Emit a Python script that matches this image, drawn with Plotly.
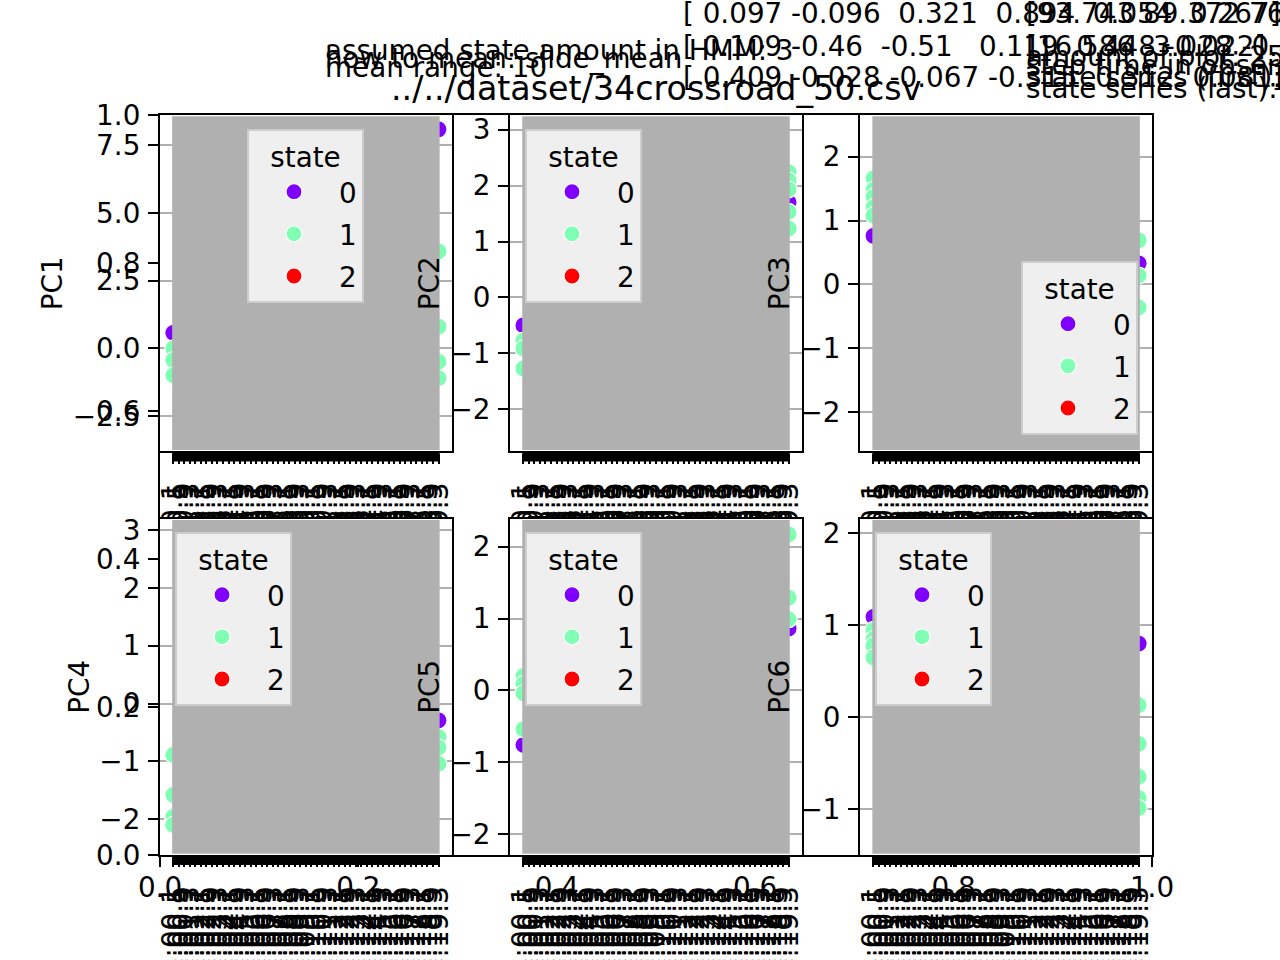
import plotly.graph_objects as go

# ---------------- data ----------------
time_labels = ["43:00.1", "43:00.5", "43:00.9", "43:01.3", "43:01.7", "43:02.1", "43:02.5",
               "43:02.9", "43:03.3", "43:03.7", "43:04.1", "43:04.5", "43:04.9", "43:05.3",
               "43:05.7", "43:06.1", "43:06.5", "43:06.9", "43:07.3", "43:07.7", "43:08.1",
               "43:08.5", "43:08.9", "43:09.3", "43:09.7", "43:10.1", "43:10.5", "43:10.9",
               "43:11.3", "43:11.7", "43:12.1", "43:12.5", "43:12.9", "43:13.3", "43:13.7",
               "43:14.1", "43:14.5", "43:14.9", "43:15.3", "43:15.7", "43:16.1", "43:16.5",
               "43:16.9", "43:17.3", "43:17.7", "43:18.1", "43:18.5", "43:18.9", "43:19.3"]

pc_names = ["PC1", "PC2", "PC3", "PC4", "PC5", "PC6"]
state_names = ["0", "1", "2"]
state_colors = ["#8000ff", "#80ffb4", "#ff0000"]

# values visible at the first / last time stamp and their states
pc1_first_vals = [0.57, 0.0, -0.43, -0.99]
pc1_first_states = [0, 1, 1, 1]
pc1_last_vals = [8.08, 3.58, 0.80, -0.49, -1.10]
pc1_last_states = [0, 1, 1, 1, 1]

pc2_first_vals = [-0.50, -0.77, -0.91, -1.27]
pc2_first_states = [0, 1, 1, 1]
pc2_last_vals = [2.24, 2.09, 1.93, 1.70, 1.53, 1.23]
pc2_last_states = [1, 1, 1, 0, 1, 1]

pc3_first_vals = [1.66, 1.48, 1.37, 1.21, 1.08, 0.76]
pc3_first_states = [1, 1, 1, 1, 1, 0]
pc3_last_vals = [0.69, 0.33, 0.14, -0.36]
pc3_last_states = [1, 0, 1, 1]

pc4_first_vals = [-2.0, -0.89, -1.58, -1.96, -2.10]
pc4_first_states = [0, 1, 1, 1, 1]
pc4_last_vals = [-0.29, -0.58, -0.76, -1.04]
pc4_last_states = [0, 1, 1, 1]

pc5_first_vals = [0.20, 0.09, -0.04, -0.54, -0.76]
pc5_first_states = [1, 1, 1, 1, 0]
pc5_last_vals = [2.17, 1.29, 0.99, 0.86]
pc5_last_states = [1, 1, 1, 0]

pc6_first_vals = [1.09, 0.95, 0.85, 0.78, 0.65]
pc6_first_states = [0, 1, 1, 1, 1]
pc6_last_vals = [0.80, 0.13, -0.29, -0.65, -0.88, -0.99]
pc6_last_states = [0, 1, 1, 1, 1, 1]

pc_y_ranges = [[-3.80, 8.61], [-2.75, 3.26], [-2.61, 2.65],
               [-2.62, 3.20], [-2.29, 2.39], [-1.50, 2.16]]
pc_dticks = [2.5, 1, 1, 1, 1, 1]
pc_tickformats = [".1f", "d", "d", "d", "d", "d"]

bg_ticks = [0.0, 0.2, 0.4, 0.6, 0.8, 1.0]

title_text = "../../dataset/34crossroad_50.csv"
info_left = ["assumed state amount in HMM: 3", "how to mean: slide_mean", "mean range: 10"]
matrix_rows = ["[ 0.097 -0.096  0.321  0.894  0.054  0.267]",
               "[ 0.109 -0.46  -0.51   0.119  0.448 -0.022]",
               "[ 0.409 -0.028 -0.067 -0.315  0.312  0.081]"]
info_right = ["[93.743 89.372 76]", "[16.586 -3.028 -0.821]", "amount of plot: 25",
              "step time in observation: 0.4", "state series (first): [0 1 1 1 1]",
              "state series (last): [1 1 0 1 1]"]

pcs_first = [(pc1_first_vals, pc1_first_states), (pc2_first_vals, pc2_first_states),
             (pc3_first_vals, pc3_first_states), (pc4_first_vals, pc4_first_states),
             (pc5_first_vals, pc5_first_states), (pc6_first_vals, pc6_first_states)]
pcs_last = [(pc1_last_vals, pc1_last_states), (pc2_last_vals, pc2_last_states),
            (pc3_last_vals, pc3_last_states), (pc4_last_vals, pc4_last_states),
            (pc5_last_vals, pc5_last_states), (pc6_last_vals, pc6_last_states)]

# ---------------- layout geometry (pixels) ----------------
W, H = 1280, 960
FONT = "DejaVu Sans"
FS = 27.8
col_px = [(160, 451.8), (510.1, 801.9), (860.2, 1152)]
row_px = [(115, 451.4), (518.6, 855)]
legend_px = [(247, 129), (525, 129), (1021, 261), (175, 532), (525, 532), (875, 532)]

def fx(p):
    return p / W

def fy(p):
    return 1 - p / H

fig = go.Figure()

# background axes (0..1)
fig.add_trace(go.Scatter(x=[], y=[], xaxis="x", yaxis="y", showlegend=False))
axis_common = dict(showline=True, linewidth=2.2, linecolor="black", mirror=True,
                   ticks="outside", ticklen=10, tickwidth=2.2, tickcolor="black",
                   zeroline=False, automargin=False,
                   tickfont=dict(family=FONT, size=FS, color="black"))
fig.update_layout(
    xaxis=dict(domain=[fx(160), fx(1152)], range=[0, 1], tickvals=bg_ticks,
               ticktext=[f"{v:.1f}" for v in bg_ticks], showgrid=False,
               anchor="y", ticklabelstandoff=-3, **axis_common),
    yaxis=dict(domain=[fy(855), fy(115)], range=[0, 1], tickvals=bg_ticks,
               ticktext=[f"{v:.1f}" for v in bg_ticks], showgrid=False,
               anchor="x", ticklabelstandoff=2, **axis_common),
)

N = len(time_labels)
cat_idx = list(range(N))
shapes = []
for i, name in enumerate(pc_names):
    k = i + 2
    r, c = divmod(i, 3)
    x0p, x1p = col_px[c]
    y0p, y1p = row_px[r]
    xa, ya = f"x{k}", f"y{k}"
    leg = "legend" if i == 0 else f"legend{i + 1}"
    fv, fs = pcs_first[i]
    lv, ls = pcs_last[i]
    for s in range(3):
        ys = [v for v, st in zip(fv, fs) if st == s] + [v for v, st in zip(lv, ls) if st == s]
        xs = [cat_idx[0] for st in fs if st == s] + [cat_idx[-1] for st in ls if st == s]
        if not ys:  # state present in the legend but without visible points
            xs, ys = [None], [None]
        fig.add_trace(go.Scatter(
            x=xs, y=ys, mode="markers", xaxis=xa, yaxis=ya, name=state_names[s],
            legend=leg, legendgroup=f"{name}_{s}", showlegend=True,
            marker=dict(color=state_colors[s], size=17, line=dict(color="white", width=1.2)),
        ))
    fig.update_layout({
        f"xaxis{k}": dict(domain=[fx(x0p), fx(x1p)], anchor=ya,
                          range=[-0.05 * (N - 1), 1.05 * (N - 1)],
                          tickmode="array", tickvals=cat_idx, ticktext=time_labels,
                          tickangle=-90, showgrid=False, ticklabelstandoff=8, **axis_common),
        f"yaxis{k}": dict(domain=[fy(y1p), fy(y0p)], anchor=xa, range=pc_y_ranges[i],
                          dtick=pc_dticks[i], tickformat=pc_tickformats[i],
                          showgrid=True, gridcolor="#b0b0b0", gridwidth=2.2,
                          ticklabelstandoff=2,
                          title=dict(text=name, font=dict(family=FONT, size=FS, color="black"),
                                     standoff=2),
                          **axis_common),
        leg: dict(x=fx(legend_px[i][0]), y=fy(legend_px[i][1]), xanchor="left", yanchor="top",
                  bgcolor="#efefef", bordercolor="#cccccc", borderwidth=2,
                  font=dict(family=FONT, size=FS, color="black"),
                  title=dict(text="state", side="top center",
                             font=dict(family=FONT, size=FS, color="black")),
                  tracegroupgap=3, itemwidth=80, itemsizing="trace"),
    })
    # dense vertical grid region (drawn over points, as in the source)
    shapes.append(dict(type="rect", xref=xa, yref=f"{ya} domain",
                       x0=cat_idx[0] - 0.2, x1=cat_idx[-1] + 0.2, y0=0.004, y1=0.996,
                       fillcolor="#b0b0b0", line=dict(width=0), layer="above"))
    # dense tick marks band
    shapes.append(dict(type="rect", xref=xa, yref=f"{ya} domain",
                       x0=cat_idx[0] - 0.2, x1=cat_idx[-1] + 0.2, y0=-10 / (y1p - y0p), y1=0,
                       fillcolor="black", line=dict(width=0), layer="above"))

annotations = []
annotations.append(dict(text=title_text, x=fx(656), y=fy(88), xref="paper", yref="paper",
                        xanchor="center", yanchor="middle", showarrow=False,
                        font=dict(family=FONT, size=33.3, color="black")))
left_y = [50, 58, 68]
for t, yy in zip(info_left, left_y):
    annotations.append(dict(text=t, x=fx(323), y=fy(yy), xref="paper", yref="paper",
                            xanchor="left", yanchor="middle", showarrow=False,
                            font=dict(family=FONT, size=FS, color="black")))
matrix_y = [14, 47, 77]
for t, yy in zip(matrix_rows, matrix_y):
    annotations.append(dict(text=t.replace(" ", "&nbsp;"), x=fx(681), y=fy(yy), xref="paper",
                            yref="paper", xanchor="left", yanchor="middle", showarrow=False,
                            font=dict(family=FONT, size=FS, color="black")))
right_y = [14, 46, 56, 66, 77, 88]
for t, yy in zip(info_right, right_y):
    annotations.append(dict(text=t.replace(" ", "&nbsp;"), x=fx(1024), y=fy(yy), xref="paper",
                            yref="paper", xanchor="left", yanchor="middle", showarrow=False,
                            font=dict(family=FONT, size=FS, color="black")))

fig.update_layout(
    width=W, height=H, margin=dict(l=0, r=0, t=0, b=0, autoexpand=False),
    paper_bgcolor="white", plot_bgcolor="white",
    font=dict(family=FONT, size=FS, color="black"),
    shapes=shapes, annotations=annotations,
)

fig.write_html("out.html")
